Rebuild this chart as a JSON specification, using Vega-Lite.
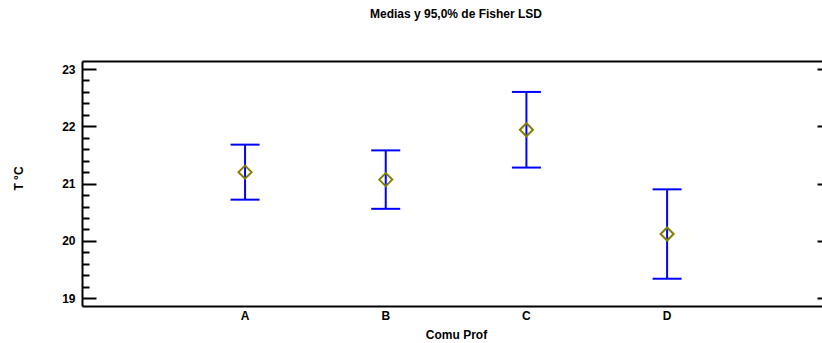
{
  "$schema": "https://vega.github.io/schema/vega-lite/v6.json",
  "width": 740,
  "height": 245,
  "autosize": {"type": "none"},
  "padding": {"left": 82, "top": 61, "right": 0, "bottom": 37},
  "background": "white",
  "title": {
    "text": "Medias y 95,0% de Fisher LSD",
    "font": "Liberation Sans",
    "fontSize": 12,
    "fontWeight": "bold",
    "color": "black",
    "anchor": "middle",
    "dx": 4,
    "offset": 40
  },
  "data": {
    "values": [
      {"grupo": "A", "media": 21.20, "inferior": 20.72, "superior": 21.68},
      {"grupo": "B", "media": 21.07, "inferior": 20.56, "superior": 21.58},
      {"grupo": "C", "media": 21.94, "inferior": 21.28, "superior": 22.60},
      {"grupo": "D", "media": 20.12, "inferior": 19.34, "superior": 20.90}
    ]
  },
  "layer": [
    {
      "mark": {"type": "rule", "color": "#0000FF", "strokeWidth": 2},
      "encoding": {
        "x": {
          "field": "grupo",
          "type": "nominal",
          "scale": {"type": "band", "paddingInner": 0, "paddingOuter": 0.63, "align": 0.523},
          "axis": {
            "orient": "bottom",
            "title": "Comu Prof",
            "labelAngle": 0,
            "ticks": false,
            "domain": true,
            "domainColor": "black",
            "domainWidth": 2,
            "labelPadding": 4,
            "labelFont": "Liberation Sans",
            "labelFontSize": 12,
            "labelFontWeight": "bold",
            "labelColor": "black",
            "titleFont": "Liberation Sans",
            "titleFontSize": 12,
            "titleFontWeight": "bold",
            "titleColor": "black",
            "titleX": 374,
            "titleY": 32,
            "titleBaseline": "alphabetic"
          }
        },
        "y": {
          "field": "inferior",
          "type": "quantitative",
          "scale": {"domain": [18.864, 23.14], "nice": false, "zero": false},
          "axis": {
            "orient": "left",
            "title": "T °C",
            "values": [19, 19.2, 19.4, 19.6, 19.8, 20, 20.2, 20.4, 20.6, 20.8, 21, 21.2, 21.4, 21.6, 21.8, 22, 22.2, 22.4, 22.6, 22.8, 23],
            "labelExpr": "datum.value % 1 === 0 ? format(datum.value, 'd') : ''",
            "tickSize": {"condition": {"test": "datum.value % 1 === 0", "value": -14}, "value": -7},
            "tickColor": "black",
            "tickWidth": 2,
            "domain": true,
            "domainColor": "black",
            "domainWidth": 2,
            "labelPadding": 21,
            "labelFont": "Liberation Sans",
            "labelFontSize": 12,
            "labelFontWeight": "bold",
            "labelColor": "black",
            "titleFont": "Liberation Sans",
            "titleFontSize": 12,
            "titleFontWeight": "bold",
            "titleColor": "black",
            "titleAngle": -90,
            "titleX": -64,
            "titleY": 117,
            "titleAlign": "center",
            "titleBaseline": "middle"
          }
        },
        "y2": {"field": "superior"}
      }
    },
    {
      "mark": {"type": "tick", "color": "#0000FF", "size": 29, "thickness": 2, "opacity": 1},
      "encoding": {
        "x": {"field": "grupo", "type": "nominal", "axis": null},
        "y": {"field": "inferior", "type": "quantitative", "axis": null}
      }
    },
    {
      "mark": {"type": "tick", "color": "#0000FF", "size": 29, "thickness": 2, "opacity": 1},
      "encoding": {
        "x": {"field": "grupo", "type": "nominal", "axis": null},
        "y": {"field": "superior", "type": "quantitative", "axis": null}
      }
    },
    {
      "mark": {"type": "point", "shape": "diamond", "filled": false, "stroke": "#808000", "strokeWidth": 2, "size": 170, "opacity": 1},
      "encoding": {
        "x": {
          "field": "grupo",
          "type": "nominal",
          "axis": {"orient": "top", "title": null, "labels": false, "ticks": false, "domain": true, "domainColor": "black", "domainWidth": 2}
        },
        "y": {
          "field": "media",
          "type": "quantitative",
          "axis": {
            "orient": "right",
            "title": null,
            "labels": false,
            "domain": false,
            "values": [19, 20, 21, 22, 23],
            "ticks": true,
            "tickSize": 5,
            "offset": -5,
            "tickColor": "black",
            "tickWidth": 2
          }
        }
      }
    }
  ],
  "resolve": {"axis": {"x": "independent", "y": "independent"}},
  "config": {
    "view": {"stroke": null},
    "axis": {"grid": false}
  }
}
